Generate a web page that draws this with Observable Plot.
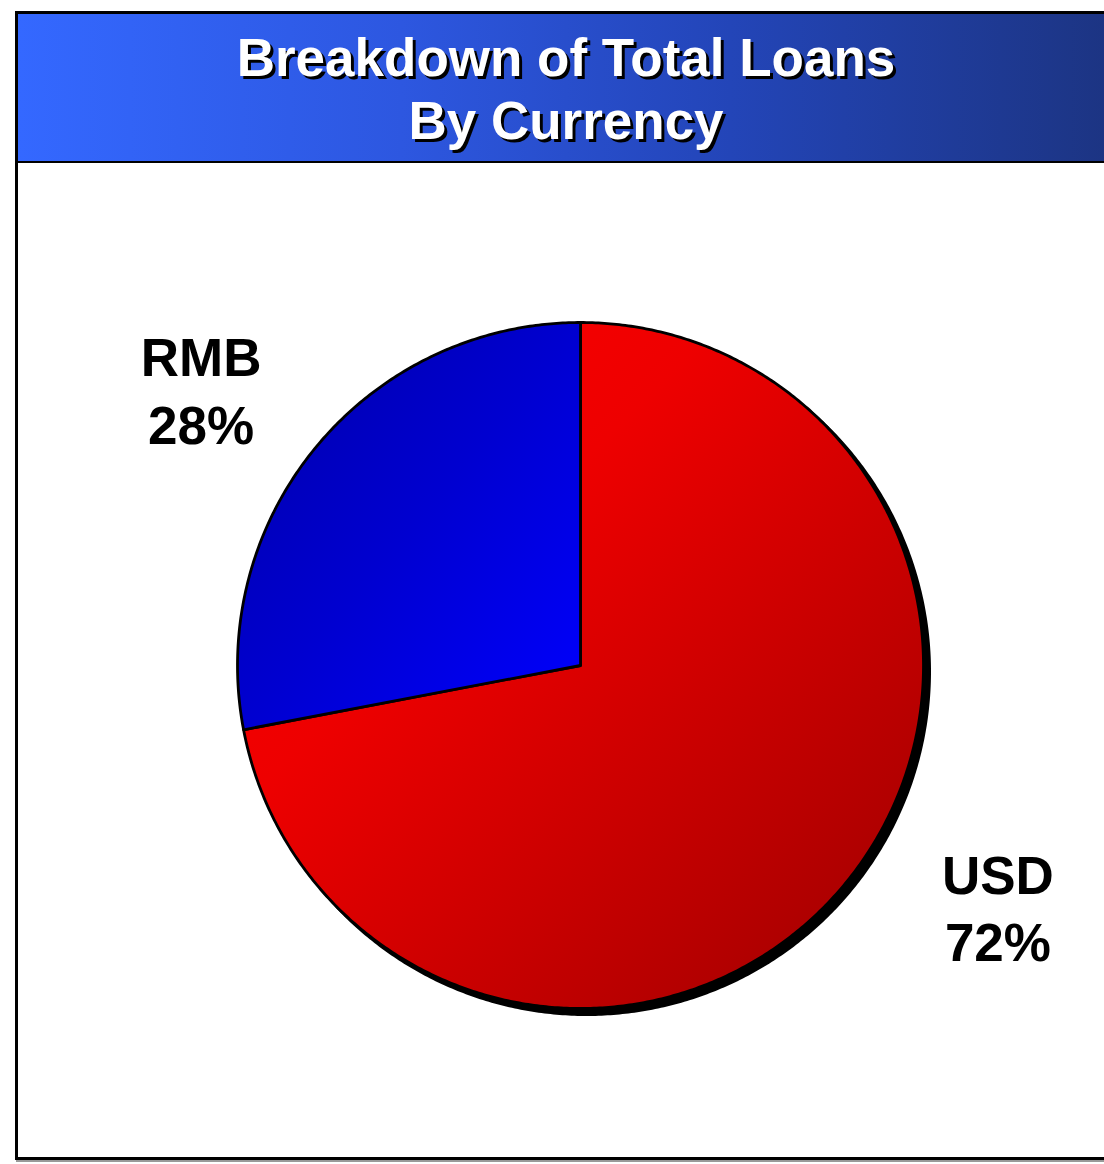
<!DOCTYPE html>
<html>
<head>
<meta charset="utf-8">
<script src="https://cdn.jsdelivr.net/npm/d3@7"></script>
<script src="https://cdn.jsdelivr.net/npm/@observablehq/plot@0.6"></script>
<style>
  html, body { margin: 0; padding: 0; background: #fff; overflow: hidden; }
  body { width: 1104px; height: 1164px; position: relative; font-family: "Liberation Sans", Arial, sans-serif; }
  #frame {
    position: absolute; left: 15px; top: 11px;
    width: 1096px; height: 1143px;
    border: 3px solid #000;
    box-shadow: 1px 2px 0 #999;
    background: #fff;
  }
  #title {
    height: 135px; padding-top: 12px;
    border-bottom: 2px solid #000;
    background: linear-gradient(to right, #3468ff 0%, #2d57e0 35%, #2345b8 65%, #1c3482 100%);
    color: #fff; text-align: center;
    font-size: 53px; font-weight: bold; line-height: 63px;
    text-shadow: 3px 3px 0 #000;
  }
  #chart svg { display: block; }
</style>
</head>
<body>
<div id="frame">
  <div id="title">Breakdown of Total Loans<br>By Currency</div>
  <div id="chart"></div>
</div>
<script>
// ---- data ----
const categories = ["USD", "RMB"];
const shares = [72, 28];
const gradientIds = ["gradUSD", "gradRMB"];

// ---- layout ----
const W = 1096, H = 994;
const cx = 562, cy = 502, R = 343;

const pie = d3.pie().sort(null).value(d => d.share);
const rows = categories.map((c, i) => ({name: c, share: shares[i], grad: gradientIds[i]}));
const arcs = pie(rows);

function slicePoints(a) {
  const pts = [{name: a.data.name, x: 0, y: 0}];
  const n = Math.max(2, Math.ceil((a.endAngle - a.startAngle) / (Math.PI / 360)));
  for (let k = 0; k <= n; k++) {
    const t = a.startAngle + (a.endAngle - a.startAngle) * k / n;
    pts.push({name: a.data.name, x: Math.sin(t), y: Math.cos(t)});
  }
  return pts;
}
const outline = d3.range(0, 721).map(k => {
  const t = 2 * Math.PI * k / 720;
  return {x: Math.sin(t), y: Math.cos(t)};
});

const labelNudge = {RMB: [-20, 20], USD: [58, -57]};
const labels = arcs.map(a => {
  const m = (a.startAngle + a.endAngle) / 2;
  return {name: a.data.name, share: a.data.share, x: 1.36 * Math.sin(m), y: 1.36 * Math.cos(m)};
});

const marks = [
  Plot.line(outline, {x: "x", y: "y", curve: "linear-closed", fill: "#000", stroke: "#000", strokeWidth: 3, dx: 6, dy: 6})
];
arcs.forEach(a => {
  marks.push(Plot.line(slicePoints(a), {x: "x", y: "y", curve: "linear-closed",
    fill: `url(#${a.data.grad})`, stroke: "#000", strokeWidth: 2.8, strokeLinejoin: "round"}));
});
labels.forEach(l => {
  marks.push(Plot.text([l], {x: "x", y: "y", text: d => `${d.name}\n${d.share}%`,
    dx: labelNudge[l.name][0], dy: labelNudge[l.name][1],
    fontSize: 53, fontWeight: "bold", fontFamily: "Liberation Sans, Arial, sans-serif",
    fill: "#000", lineHeight: 1.28, textAnchor: "middle", lineAnchor: "middle"}));
});

const svg = Plot.plot({
  width: W, height: H,
  marginTop: 0, marginRight: 0, marginBottom: 0, marginLeft: 0,
  x: {domain: [-cx / R, (W - cx) / R], axis: null},
  y: {domain: [-(H - cy) / R, cy / R], axis: null},
  style: {background: "transparent", overflow: "visible"},
  marks
});

// gradients
const ns = "http://www.w3.org/2000/svg";
const defs = document.createElementNS(ns, "defs");
defs.innerHTML = `
  <linearGradient id="gradUSD" x1="0" y1="0" x2="1" y2="1">
    <stop offset="0" stop-color="#ff0000"/>
    <stop offset="0.35" stop-color="#ee0000"/>
    <stop offset="1" stop-color="#9c0000"/>
  </linearGradient>
  <linearGradient id="gradRMB" x1="0" y1="0" x2="1" y2="1">
    <stop offset="0" stop-color="#0000a8"/>
    <stop offset="0.5" stop-color="#0000d0"/>
    <stop offset="1" stop-color="#0000ff"/>
  </linearGradient>`;
svg.insertBefore(defs, svg.firstChild);

document.getElementById("chart").appendChild(svg);
</script>
</body>
</html>
